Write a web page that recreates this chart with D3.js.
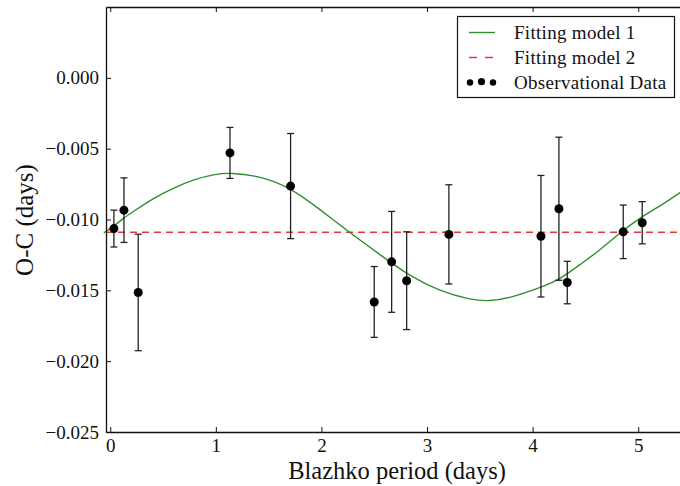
<!DOCTYPE html>
<html>
<head>
<meta charset="utf-8">
<script src="https://cdn.jsdelivr.net/npm/d3@7"></script>
<style>
  html, body { margin: 0; padding: 0; background: #fff; }
  svg { display: block; }
  text { font-family: "Liberation Serif", "Times New Roman", serif; fill: #111; }
</style>
</head>
<body>
<svg id="chart" width="680" height="486"></svg>
<script>
// ---- data ----
const obsX    = [0.035, 0.130, 0.265, 1.134, 1.708, 2.500, 2.665, 2.807, 3.207, 4.079, 4.249, 4.328, 4.858, 5.038];
const obsY    = [-0.01064, -0.00934, -0.01515, -0.00530, -0.00764, -0.01582, -0.01299, -0.01432, -0.01105, -0.01118, -0.00924, -0.01445, -0.01087, -0.01023];
const obsErr  = [0.00130, 0.00228, 0.00411, 0.00180, 0.00371, 0.00250, 0.00356, 0.00345, 0.00350, 0.00429, 0.00505, 0.00150, 0.00189, 0.00149];

const model1X = [-0.060, 0.035, 0.130, 0.224, 0.414, 0.603, 0.793, 0.982, 1.140, 1.418, 1.702, 1.986, 2.270, 2.554, 2.838, 3.122, 3.406, 3.596, 3.785, 4.069, 4.258, 4.448, 4.637, 4.826, 5.016, 5.205, 5.395, 5.55];
const model1Y = [-0.01094, -0.01047, -0.00988, -0.00941, -0.00846, -0.00776, -0.00717, -0.00681, -0.00669, -0.00693, -0.00773, -0.00929, -0.01094, -0.01248, -0.01401, -0.01507, -0.01566, -0.01578, -0.01554, -0.01483, -0.01424, -0.01318, -0.01217, -0.01094, -0.00988, -0.00906, -0.00811, -0.00730];

const model2Y = -0.0109;

const xTicks = [0, 1, 2, 3, 4, 5];
const yTicks = [0, -0.005, -0.010, -0.015, -0.020, -0.025];
const legendLabels = ["Fitting model 1", "Fitting model 2", "Observational Data"];

// ---- layout ----
const svg = d3.select("#chart");
const plotLeft = 106, plotTop = 7, plotBottom = 432;
const x = d3.scaleLinear().domain([-0.04, 5.5]).range([plotLeft, plotLeft + 5.54 * 105.6]);
const y = d3.scaleLinear().domain([-0.025, 0.005]).range([plotBottom, plotTop]);
const plotRight = x.range()[1];

const fmt = v => (v < 0 ? "\u2212" : "") + Math.abs(v).toFixed(3);
const SERIF = "'Liberation Serif', 'Times New Roman', serif";

// model 2 (dashed)
svg.append("line")
  .attr("x1", plotLeft).attr("x2", plotRight)
  .attr("y1", y(model2Y)).attr("y2", y(model2Y))
  .attr("stroke", "#dd3b3b").attr("stroke-width", 1.4)
  .attr("stroke-dasharray", "7,5");

// model 1 (green)
const line = d3.line().x(d => x(d[0])).y(d => y(d[1])).curve(d3.curveBasis);
svg.append("path")
  .datum(model1X.map((v, i) => [v, model1Y[i]]))
  .attr("d", line)
  .attr("fill", "none").attr("stroke", "#2f8f2f").attr("stroke-width", 1.4);

// error bars
const obs = obsX.map((v, i) => ({ x: v, y: obsY[i], e: obsErr[i] }));
const eb = svg.append("g").attr("stroke", "#222").attr("stroke-width", 1.3);
obs.forEach(d => {
  eb.append("line").attr("x1", x(d.x)).attr("x2", x(d.x)).attr("y1", y(d.y - d.e)).attr("y2", y(d.y + d.e));
  eb.append("line").attr("x1", x(d.x) - 3.5).attr("x2", x(d.x) + 3.5).attr("y1", y(d.y - d.e)).attr("y2", y(d.y - d.e));
  eb.append("line").attr("x1", x(d.x) - 3.5).attr("x2", x(d.x) + 3.5).attr("y1", y(d.y + d.e)).attr("y2", y(d.y + d.e));
});
svg.append("g").selectAll("circle").data(obs).join("circle")
  .attr("cx", d => x(d.x)).attr("cy", d => y(d.y)).attr("r", 4.5).attr("fill", "#000");

// axes (inward ticks)
const axB = d3.axisBottom(x).tickValues(xTicks).tickSizeInner(-5).tickSizeOuter(0).tickPadding(6.5).tickFormat(d3.format("d"));
const gB = svg.append("g").attr("transform", `translate(0,${plotBottom})`).call(axB);
const axT = d3.axisTop(x).tickValues(xTicks).tickSizeInner(-5).tickSizeOuter(0).tickFormat("");
const gT = svg.append("g").attr("transform", `translate(0,${plotTop})`).call(axT);
const axL = d3.axisLeft(y).tickValues(yTicks).tickSizeInner(-5).tickSizeOuter(0).tickPadding(7).tickFormat(fmt);
const gL = svg.append("g").attr("transform", `translate(${plotLeft},0)`).call(axL);
[gB, gT, gL].forEach(g => {
  g.attr("font-family", SERIF).attr("font-size", 19);
  g.select(".domain").attr("stroke", "#111").attr("stroke-width", 1.3);
  g.selectAll(".tick line").attr("stroke", "#111").attr("stroke-width", 1);
  g.selectAll(".tick text").style("font-family", SERIF).style("font-size", "19px").attr("fill", "#111");
});

// axis labels
svg.append("text").attr("x", 397).attr("y", 478.5).attr("text-anchor", "middle")
  .style("font-size", "24.5px").text("Blazhko period (days)");
svg.append("text").attr("transform", "translate(33,220) rotate(-90)").attr("text-anchor", "middle")
  .style("font-size", "25px").text("O-C (days)");

// legend
const lg = svg.append("g");
lg.append("rect").attr("x", 457.5).attr("y", 16.5).attr("width", 217).attr("height", 81)
  .attr("fill", "#fff").attr("stroke", "#111").attr("stroke-width", 1.2);
const rowY = [32.5, 57.5, 82.5];
lg.append("line").attr("x1", 469).attr("x2", 495).attr("y1", rowY[0]).attr("y2", rowY[0])
  .attr("stroke", "#2f8f2f").attr("stroke-width", 1.4);
lg.append("line").attr("x1", 469).attr("x2", 495).attr("y1", rowY[1]).attr("y2", rowY[1])
  .attr("stroke", "#dd3b3b").attr("stroke-width", 1.4).attr("stroke-dasharray", "8,8");
[470, 481.5, 493].forEach((cx, i) => {
  lg.append("circle").attr("cx", cx).attr("cy", rowY[2] + (i === 1 ? -0.8 : 0)).attr("r", i === 1 ? 3.6 : 3.2).attr("fill", "#000");
});
legendLabels.forEach((t, i) => {
  lg.append("text").attr("x", 514).attr("y", rowY[i]).attr("dy", "0.33em")
    .style("font-size", "19px").style("letter-spacing", "0.3px").text(t);
});
</script>
</body>
</html>
